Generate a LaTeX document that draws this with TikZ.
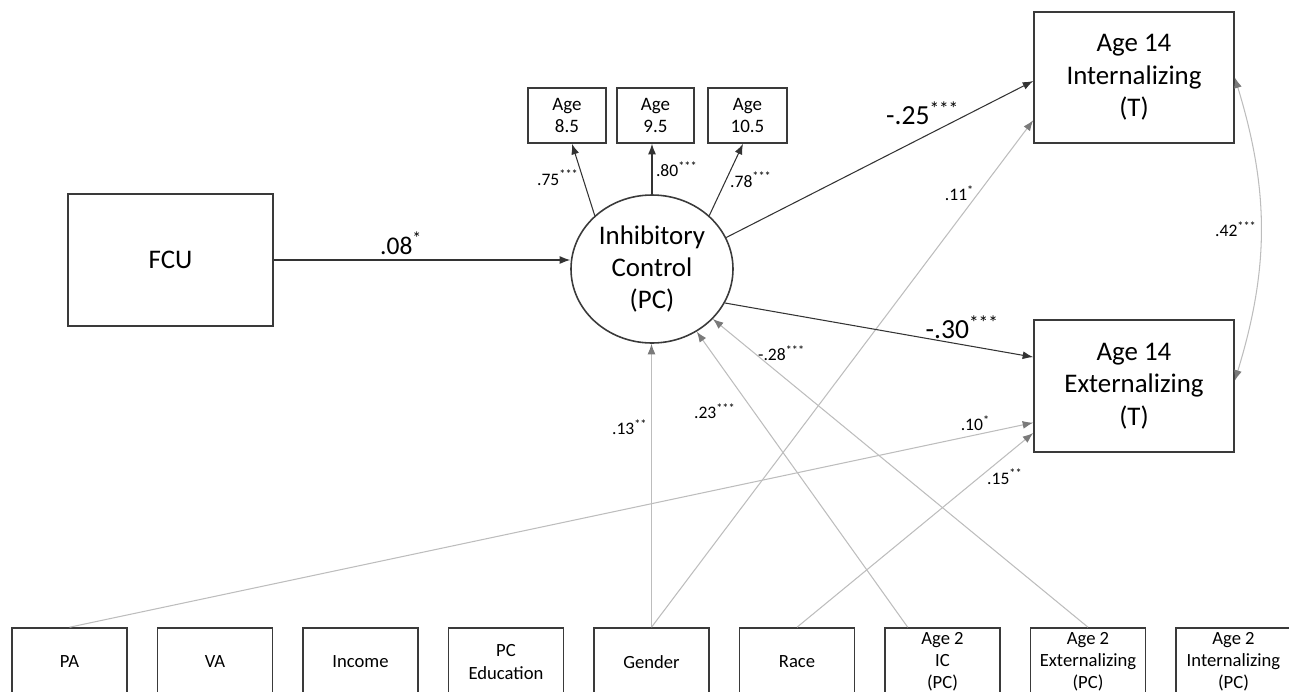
\documentclass[tikz,border=0pt]{standalone}
\usepackage{fontspec}
\setmainfont{Carlito}
\usetikzlibrary{arrows.meta,shapes.geometric}
\definecolor{ink}{HTML}{333333}
\definecolor{boxline}{HTML}{3A3A3A}
\definecolor{pathgray}{HTML}{BDBDBD}
\definecolor{tipgray}{HTML}{7A7A7A}
\newcommand{\pxu}{0.02cm}
\newcommand{\coef}[2]{#1\textsuperscript{#2}}
\tikzset{
  varbox/.style={draw=boxline, line width=0.9pt, align=center, inner sep=1pt},
  bigbox/.style={varbox, font=\fontsize{15.3}{18.4}\selectfont},
  agebox/.style={varbox, minimum width=78*\pxu, minimum height=55*\pxu,
    font=\fontsize{10.8}{12.5}\selectfont},
  covbox/.style={varbox, minimum width=115*\pxu, minimum height=68*\pxu,
    font=\fontsize{10.6}{12.6}\selectfont},
  latent/.style={ellipse, draw=boxline, line width=0.9pt, align=center,
    minimum width=162*\pxu, minimum height=148*\pxu, inner sep=0pt,
    font=\fontsize{15.3}{18.4}\selectfont},
  tipblack/.tip={Latex[length=6pt,width=4.5pt]},
  tipgrey/.tip={Latex[length=6pt,width=4.5pt,color=tipgray]},
  mainpath/.style={draw=ink, line width=0.6pt, -tipblack},
  ctrlpath/.style={draw=pathgray, line width=0.6pt, -tipgrey},
  covpath/.style={draw=pathgray, line width=0.6pt, tipgrey-tipgrey},
  coeff/.style={font=\fontsize{10}{12}\selectfont, inner sep=2pt},
  bigcoeff/.style={font=\fontsize{15.7}{18}\selectfont, inner sep=3pt}
}
\begin{document}
\begin{tikzpicture}[x=\pxu, y=\pxu]
  \useasboundingbox (0,0) rectangle (1289,-691);
  % model
  \node[bigbox, minimum width=205*\pxu, minimum height=132*\pxu] (fcu) at (170.5,-260) {FCU};
  \node[latent] (ic) at (652,-269) {Inhibitory\\Control\\(PC)};
  \node[agebox] (a85) at (567,-115.5) {Age\\8.5};
  \node[agebox, minimum width=77*\pxu] (a95) at (655.5,-115.5) {Age\\9.5};
  \node[agebox, minimum width=79*\pxu] (a105) at (747.5,-115.5) {Age\\10.5};
  \node[bigbox, minimum width=200*\pxu, minimum height=131*\pxu] (int) at (1134,-77.5) {Age 14\\Internalizing\\(T)};
  \node[bigbox, minimum width=200*\pxu, minimum height=132*\pxu] (ext) at (1134,-386) {Age 14\\Externalizing\\(T)};
  % covariates
  \foreach \nm/\txt [count=\i from 0] in {pa/PA, va/VA, inc/Income, pced/{PC\\Education},
      gen/Gender, race/Race, icb/{Age 2\\IC\\(PC)}, extb/{Age 2\\Externalizing\\(PC)},
      intb/{Age 2\\Internalizing\\(PC)}}
    \node[covbox] (\nm) at ({69.5+145.5*\i},-662) {\txt};
  % control paths
  \draw[ctrlpath] (pa.north) -- node[coeff, above, pos=0.94] {\coef{.10}{*}} (ext.200);
  \draw[ctrlpath] (gen.north) -- node[coeff, left, pos=0.705] {\coef{.13}{**}} (gen.north |- ic.south);
  \draw[ctrlpath] (gen.north) -- node[coeff, left, pos=0.856] {\coef{.11}{*}} (int.203);
  \draw[ctrlpath] (icb.135) -- node[coeff, left=8pt, pos=0.73] {\coef{.23}{***}} (ic);
  \draw[ctrlpath] (extb.north) -- node[coeff, right, pos=0.89] {\coef{-.28}{***}} (ic);
  \draw[ctrlpath] (race.north) -- node[coeff, below=5pt, pos=0.88] {\coef{.15}{**}} (ext.205);
  \draw[covpath] (int.east) to[bend left=17] node[coeff, left, midway] {\coef{.42}{***}} (ext.3);
  % main paths
  \draw[mainpath] (fcu.east) -- node[bigcoeff, above, pos=0.43, font=\fontsize{14.5}{16}\selectfont] {\coef{.08}{*}} (fcu.east -| ic.west);
  \draw[mainpath] (ic.137) -- node[coeff, left, pos=0.53] {\coef{.75}{***}} (a85.-80);
  \draw[mainpath] (ic.north) -- node[coeff, right, pos=0.5] {\coef{.80}{***}} (ic.north |- a95.south);
  \draw[mainpath] (ic.43) -- node[coeff, right, pos=0.5] {\coef{.78}{***}} (a105.-99);
  \draw[mainpath] (ic.23) -- node[bigcoeff, above=4pt, pos=0.64] {\coef{-.25}{***}} (int.182);
  \draw[mainpath] (ic.-25) -- node[bigcoeff, above, pos=0.77] {\coef{-.30}{***}} (ext.164);
\end{tikzpicture}
\end{document}
